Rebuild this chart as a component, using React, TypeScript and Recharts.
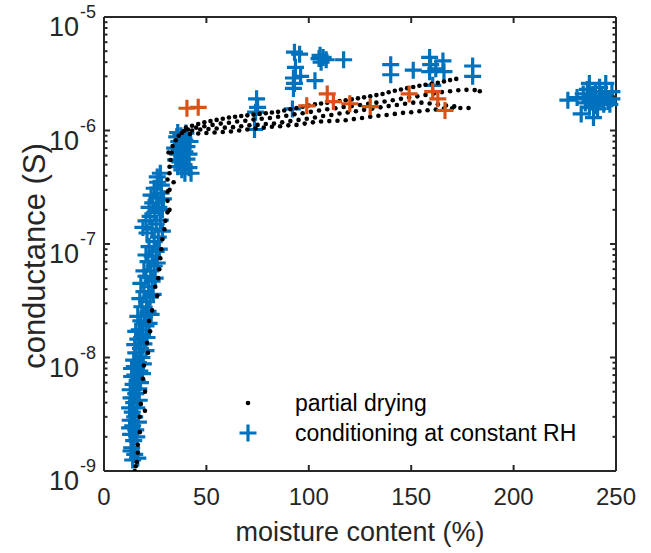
import { ScatterChart, Scatter, XAxis, YAxis, ReferenceLine, Legend } from "recharts";

const FONT = '"Liberation Sans", Arial, Helvetica, sans-serif';
const AX = "#262626";
const BLUE = "#0072BD";
const ORANGE = "#D95319";
const PW = 512; // plot width
const PH = 454; // plot height

const X_TICKS = [0, 50, 100, 150, 200, 250];
const Y_MAJOR = [1e-9, 1e-8, 1e-7, 1e-6, 1e-5];

// partial drying, steep part
const dryingSteep: [number, number][] = [
  [15, 1.0e-9], [15.5, 1.1e-9], [16, 1.2e-9], [16.5, 1.45e-9], [16.5, 1.7e-9], [17.5, 2.2e-9],
  [17.5, 3.0e-9], [20, 3.4e-9], [18, 3.9e-9], [20, 5.0e-9], [19, 6.5e-9], [19.5, 8.5e-9],
  [21.5, 1.1e-8], [21, 1.35e-8], [22.5, 1.7e-8], [22, 2.1e-8], [23.5, 2.6e-8], [26, 3.5e-8],
  [25, 4.2e-8], [26.5, 5.0e-8], [27, 6.0e-8], [27.5, 7.5e-8], [28, 9.0e-8], [28.5, 1.1e-7],
  [29.5, 1.35e-7], [30, 1.6e-7], [31, 1.9e-7], [32, 2.0e-7], [31, 2.4e-7], [31, 2.9e-7],
  [32, 3.0e-7], [31, 3.7e-7], [34, 3.5e-7], [32, 4.2e-7], [32, 4.8e-7], [32.5, 5.5e-7],
  [31.5, 6.4e-7], [33, 6.4e-7], [33.5, 7.3e-7], [35, 8.2e-7], [36.5, 9.0e-7], [38, 9.5e-7],
];

// partial drying, plateau runs
const dryingRun1: [number, number][] = [
  [40, 1.06e-6], [43, 1.10e-6], [46, 1.14e-6], [49, 1.18e-6], [52, 1.21e-6], [55, 1.24e-6],
  [58, 1.27e-6], [61, 1.30e-6], [64, 1.32e-6], [67, 1.34e-6], [70, 1.36e-6], [73, 1.38e-6],
  [76, 1.40e-6], [79, 1.42e-6], [82, 1.44e-6], [85, 1.46e-6], [88, 1.50e-6], [91, 1.54e-6],
  [94, 1.58e-6], [97, 1.62e-6], [100, 1.66e-6], [103, 1.70e-6], [106, 1.73e-6], [109, 1.76e-6],
  [112, 1.79e-6], [115, 1.82e-6], [118, 1.85e-6], [121, 1.88e-6], [124, 1.92e-6], [127, 1.96e-6],
  [130, 2.00e-6], [133, 2.05e-6], [136, 2.10e-6], [139, 2.17e-6], [142, 2.24e-6], [145, 2.30e-6],
  [148, 2.36e-6], [151, 2.42e-6], [154, 2.48e-6], [157, 2.53e-6], [160, 2.58e-6], [163, 2.63e-6],
  [166, 2.70e-6], [169, 2.78e-6], [172, 2.85e-6],
];
const dryingRun2: [number, number][] = [
  [41, 1.02e-6], [45, 1.06e-6], [49, 1.09e-6], [53, 1.12e-6], [57, 1.15e-6], [61, 1.17e-6],
  [65, 1.20e-6], [69, 1.22e-6], [73, 1.25e-6], [77, 1.27e-6], [81, 1.29e-6], [85, 1.32e-6],
  [89, 1.35e-6], [93, 1.39e-6], [97, 1.42e-6], [101, 1.46e-6], [105, 1.50e-6], [109, 1.54e-6],
  [113, 1.57e-6], [117, 1.61e-6], [121, 1.64e-6], [125, 1.68e-6], [129, 1.72e-6], [133, 1.76e-6],
  [137, 1.80e-6], [141, 1.85e-6], [145, 1.90e-6], [149, 1.95e-6], [153, 2.00e-6], [157, 2.06e-6],
  [161, 2.12e-6], [165, 2.18e-6], [169, 2.22e-6], [173, 2.26e-6], [177, 2.28e-6], [181, 2.27e-6],
  [183.5, 2.22e-6],
];
const dryingRun3: [number, number][] = [
  [39, 0.99e-6], [43, 1.00e-6], [47, 1.02e-6], [51, 1.03e-6], [55, 1.04e-6], [59, 1.06e-6],
  [63, 1.07e-6], [67, 1.09e-6], [71, 1.11e-6], [75, 1.12e-6], [79, 1.14e-6], [83, 1.15e-6],
  [87, 1.18e-6], [91, 1.21e-6], [95, 1.24e-6], [99, 1.27e-6], [103, 1.30e-6], [107, 1.34e-6],
  [111, 1.37e-6], [115, 1.41e-6], [119, 1.44e-6], [123, 1.48e-6], [127, 1.52e-6], [131, 1.56e-6],
  [135, 1.60e-6], [139, 1.64e-6], [143, 1.68e-6], [147, 1.72e-6], [151, 1.76e-6], [155, 1.76e-6],
  [159, 1.73e-6], [163, 1.70e-6], [167, 1.66e-6], [171, 1.63e-6],
];
const dryingRun4: [number, number][] = [
  [42, 0.93e-6], [46, 0.94e-6], [50, 0.95e-6], [54, 0.96e-6], [58, 0.97e-6], [62, 0.98e-6],
  [66, 1.00e-6], [70, 1.02e-6], [74, 1.04e-6], [78, 1.06e-6], [82, 1.08e-6], [86, 1.09e-6],
  [90, 1.11e-6], [94, 1.12e-6], [98, 1.15e-6], [102, 1.18e-6], [106, 1.20e-6], [110, 1.21e-6],
  [114, 1.22e-6], [118, 1.23e-6], [122, 1.26e-6], [126, 1.29e-6], [130, 1.32e-6], [134, 1.35e-6],
  [138, 1.37e-6], [142, 1.40e-6], [146, 1.43e-6], [150, 1.45e-6], [154, 1.48e-6], [158, 1.51e-6],
  [162, 1.53e-6], [166, 1.56e-6], [170, 1.57e-6], [174, 1.58e-6], [178, 1.58e-6],
];

// conditioning at constant RH (blue +)
const condSteep: [number, number][] = [
  [14.0, 1.25e-9], [15.0, 1.4e-9], [13.5, 1.6e-9], [14.5, 1.85e-9], [13.0, 2.1e-9], [15.5, 2.3e-9],
  [14.0, 2.5e-9], [12.8, 2.8e-9], [15.0, 3.0e-9], [13.8, 3.3e-9], [16.0, 3.6e-9], [14.5, 4.0e-9],
  [13.2, 4.4e-9], [15.5, 4.8e-9], [17.0, 5.3e-9], [14.2, 5.8e-9], [16.2, 6.3e-9], [15.0, 7.0e-9],
  [17.5, 7.6e-9], [14.8, 8.3e-9], [16.8, 9.0e-9], [18.5, 1.0e-8], [15.5, 1.1e-8], [17.8, 1.2e-8],
  [19.5, 1.32e-8], [16.5, 1.45e-8], [18.8, 1.6e-8], [17.2, 1.75e-8], [20.5, 1.9e-8], [18.0, 2.1e-8],
  [19.8, 2.3e-8], [21.5, 2.55e-8], [18.5, 2.8e-8], [20.8, 3.1e-8], [22.5, 3.4e-8], [19.5, 3.8e-8],
  [21.8, 4.2e-8], [23.5, 4.7e-8], [20.5, 5.2e-8], [22.8, 5.8e-8], [24.5, 6.4e-8], [21.5, 7.0e-8],
  [23.5, 7.8e-8], [25.5, 8.6e-8], [22.0, 9.5e-8], [24.5, 1.05e-7], [26.5, 1.15e-7], [21.0, 1.25e-7],
  [23.5, 1.35e-7], [25.5, 1.5e-7], [27.5, 1.62e-7], [22.5, 1.75e-7], [24.8, 1.9e-7], [26.8, 2.1e-7],
  [23.8, 2.3e-7], [25.8, 2.55e-7], [27.8, 2.8e-7], [24.5, 3.1e-7], [26.2, 3.5e-7], [26.0, 3.9e-7],
  [16.5, 1.3e-9], [13.2, 1.5e-9], [16.0, 2.0e-9], [12.5, 2.4e-9], [16.8, 2.7e-9], [12.5, 3.6e-9],
  [17.2, 4.2e-9], [12.8, 5.2e-9], [17.8, 6.0e-9], [13.5, 6.8e-9], [18.8, 7.2e-9], [13.5, 8.0e-9],
  [19.2, 8.8e-9], [14.5, 9.5e-9], [20.5, 1.15e-8], [15.0, 1.3e-8], [21.0, 1.5e-8], [15.5, 1.7e-8],
  [22.0, 2.0e-8], [16.5, 2.3e-8], [23.0, 2.4e-8], [17.5, 3.3e-8], [24.0, 3.6e-8], [18.0, 4.5e-8],
  [25.0, 5.0e-8], [19.5, 5.8e-8], [26.0, 6.8e-8], [20.5, 8.0e-8], [27.0, 9.0e-8], [19.0, 1.4e-7],
  [28.5, 1.3e-7], [20.5, 1.6e-7], [28.5, 2.0e-7], [22.0, 2.1e-7], [29.0, 2.5e-7], [23.0, 2.7e-7],
  [28.0, 3.3e-7], [27.5, 4.2e-7],
];
const condKnee: [number, number][] = [
  [36.0, 9.6e-7], [37.5, 9.0e-7], [39.0, 8.6e-7], [36.5, 8.0e-7], [38.5, 7.6e-7], [40.5, 7.2e-7],
  [37.0, 6.9e-7], [39.5, 6.5e-7], [36.0, 6.2e-7], [38.0, 5.9e-7], [40.5, 5.6e-7], [37.0, 5.3e-7],
  [39.0, 5.0e-7], [41.5, 4.7e-7], [38.0, 4.5e-7], [42.5, 4.2e-7], [37.5, 7.4e-7], [39.5, 8.2e-7],
  [34.5, 7.0e-7], [35.0, 5.5e-7], [41.5, 6.2e-7], [42.0, 8.0e-7], [35.5, 8.8e-7], [40.0, 9.5e-7],
  [36.0, 4.8e-7], [39.5, 4.2e-7],
];
const condPlateau: [number, number][] = [
  [74.5, 1.9e-6], [75.0, 1.6e-6], [74.0, 1.45e-6], [73.5, 1.02e-6],
  [93.0, 4.9e-6], [95.5, 4.7e-6], [93.5, 3.6e-6], [92.5, 2.9e-6], [93.0, 2.6e-6], [92.5, 2.35e-6],
  [92.0, 1.55e-6], [96.0, 3.0e-6], [103.0, 2.75e-6], [105.0, 4.3e-6], [105.5, 4.6e-6], [107.0, 4.4e-6],
  [108.5, 4.2e-6], [106.0, 4.0e-6], [117.0, 4.2e-6], [140.0, 3.8e-6], [140.0, 3.1e-6], [151.0, 3.4e-6],
  [159.0, 4.4e-6], [159.5, 3.8e-6], [159.0, 3.3e-6], [162.0, 3.5e-6], [165.5, 4.1e-6], [166.0, 3.3e-6],
  [160.5, 2.5e-6], [180.0, 3.7e-6], [180.0, 3.0e-6],
];
const condWet: [number, number][] = [
  [226.5, 1.85e-6], [231, 1.95e-6], [233, 1.4e-6], [234, 2.1e-6], [235, 1.75e-6], [236, 2.3e-6],
  [237, 2.6e-6], [237, 1.6e-6], [238, 2.0e-6], [239, 1.3e-6], [239, 1.8e-6], [240, 2.2e-6],
  [241, 1.55e-6], [242, 2.4e-6], [242, 1.9e-6], [243, 2.0e-6], [244, 1.7e-6], [245, 2.6e-6],
  [245, 2.1e-6], [246, 1.8e-6], [247, 1.7e-6], [248, 2.2e-6], [248, 1.9e-6], [236, 1.9e-6],
  [240, 1.65e-6],
];

// orange +
const orangeSet: [number, number][] = [
  [40.5, 1.57e-6], [46.0, 1.6e-6], [99.0, 1.65e-6], [109.0, 2.1e-6], [112.0, 1.8e-6], [120.0, 1.72e-6],
  [130.0, 1.62e-6], [149.0, 2.1e-6], [160.5, 2.2e-6], [163.0, 1.9e-6], [166.5, 1.5e-6],
];

const toPts = (a: [number, number][]) => a.map(([x, y]) => ({ x, y }));
const drying = toPts([...dryingSteep, ...dryingRun1, ...dryingRun2, ...dryingRun3, ...dryingRun4]);
const cond = toPts([...condSteep, ...condKnee, ...condPlateau, ...condWet]);
const orange = toPts(orangeSet);

// major + minor positions for the log axis
const yTicks: number[] = [];
for (let e = -9; e < -5; e++) for (let m = 1; m < 10; m++) yTicks.push(m * Math.pow(10, e));
yTicks.push(1e-5);

const Dot = (p: any) => <circle cx={p.cx} cy={p.cy} r={2.3} fill="#000" />;
const plus = (color: string) => (p: any) => (
  <path d={`M${p.cx - 8.5},${p.cy}h17M${p.cx},${p.cy - 8.5}v17`} stroke={color} strokeWidth={3.2} fill="none" />
);

const XTick = ({ x, y, payload }: any) => (
  <g>
    <line x1={x} x2={x} y1={y} y2={y - 6} stroke={AX} strokeWidth={2} />
    <line x1={x} x2={x} y1={y - PH} y2={y - PH + 6} stroke={AX} strokeWidth={2} />
    <text x={x} y={y + 34} textAnchor="middle" fontSize={24} fill={AX} fontFamily={FONT}>
      {payload.value}
    </text>
  </g>
);

const YTick = ({ x, y, payload }: any) => {
  const v = payload.value;
  const e = Math.round(Math.log10(v));
  const major = Y_MAJOR.some((m) => Math.abs(m - v) < v * 1e-6);
  const len = major ? 6 : 3.5;
  return (
    <g>
      <line x1={x} x2={x + len} y1={y} y2={y} stroke={AX} strokeWidth={2} />
      <line x1={x + PW} x2={x + PW - len} y1={y} y2={y} stroke={AX} strokeWidth={2} />
      {major && (
        <>
          <text x={x - 25} y={y + 19} textAnchor="end" fontSize={27} fill={AX} fontFamily={FONT}>10</text>
          <text x={x - 24} y={y + 1} textAnchor="start" fontSize={18} fill={AX} fontFamily={FONT}>{e}</text>
        </>
      )}
    </g>
  );
};

const YLabel = () => (
  <text transform="translate(45,256) rotate(-90)" textAnchor="middle" fontSize={31} fill={AX} fontFamily={FONT}>
    conductance (S)
  </text>
);

const LegendBox = () => (
  <svg width={400} height={64}>
    <circle cx={18} cy={18} r={2.3} fill="#000" />
    <path d="M9.5,48h17M18,39.5v17" stroke={BLUE} strokeWidth={3.2} />
    <text x={65} y={26} fontSize={23} fill="#000" fontFamily={FONT}>partial drying</text>
    <text x={65} y={56} fontSize={23} fill="#000" fontFamily={FONT}>conditioning at constant RH</text>
  </svg>
);

export default function App() {
  return (
    <div style={{ position: "absolute", left: 0, top: 0, background: "#fff" }}>
      <ScatterChart width={651} height={553} margin={{ top: 17, right: 35, bottom: 0, left: 0 }}>
        <XAxis
          type="number" dataKey="x" domain={[0, 250]} ticks={X_TICKS} height={82}
          tickSize={0} tickMargin={0} tickLine={false} tick={<XTick />}
          axisLine={{ stroke: AX, strokeWidth: 2 }}
          label={{ value: "moisture content (%)", position: "insideBottom", offset: 12, fontSize: 27, fill: AX, fontFamily: FONT }}
        />
        <YAxis
          type="number" dataKey="y" scale="log" domain={[1e-9, 1e-5]} ticks={yTicks} allowDataOverflow
          width={104} tickSize={0} tickMargin={0} tickLine={false} tick={<YTick />} interval={0}
          axisLine={{ stroke: AX, strokeWidth: 2 }}
          label={{ content: () => <YLabel /> }}
        />
        <ReferenceLine y={1e-5} stroke={AX} strokeWidth={2} />
        <ReferenceLine x={250} stroke={AX} strokeWidth={2} />
        <Scatter name="conditioning at constant RH" data={cond} shape={plus(BLUE)} isAnimationActive={false} />
        <Scatter name="partial drying" data={drying} shape={Dot} isAnimationActive={false} />
        <Scatter name="constant RH (other)" data={orange} shape={plus(ORANGE)} isAnimationActive={false} />
        <Legend
          layout="vertical" verticalAlign="middle" align="center"
          wrapperStyle={{ left: 230, top: 385, width: 400 }}
          content={() => <LegendBox />}
        />
      </ScatterChart>
    </div>
  );
}
